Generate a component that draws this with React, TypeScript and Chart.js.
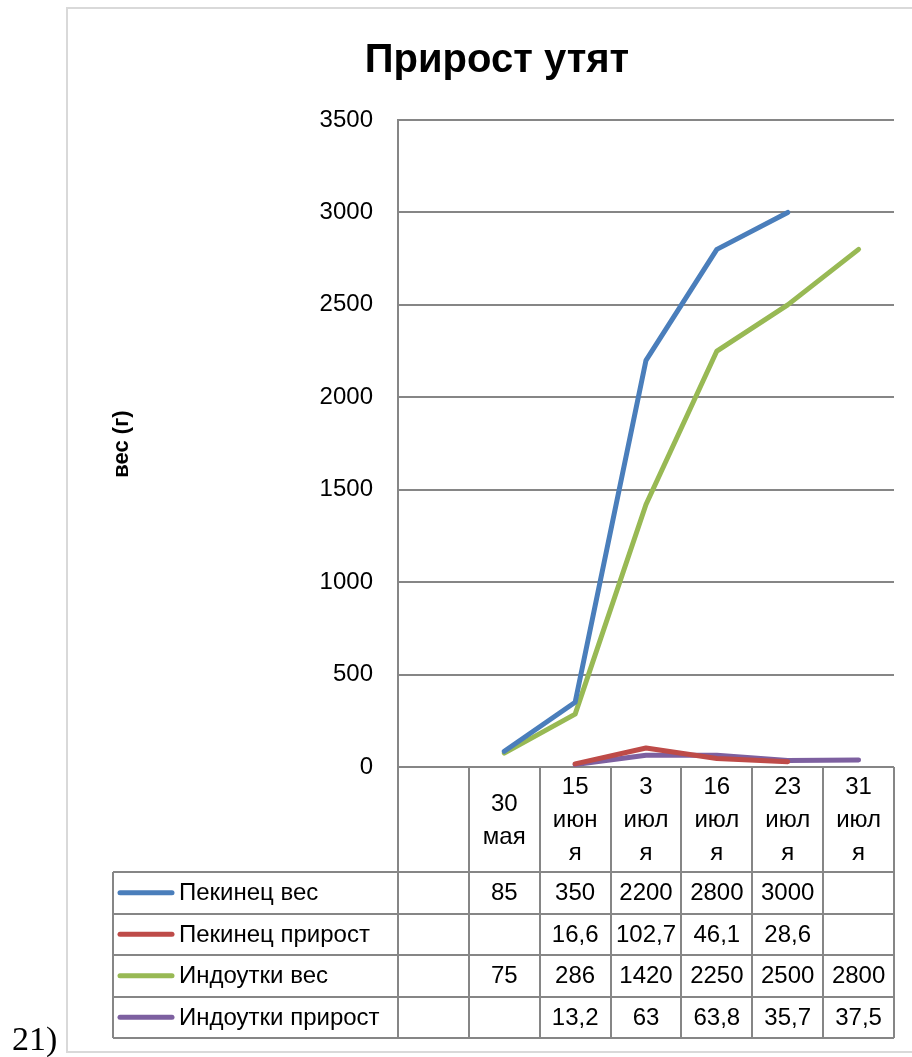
import React, { useEffect, useRef } from "react";
import { Chart, registerables } from "chart.js";

Chart.register(...registerables);

const TITLE = "Прирост утят";
const Y_LABEL = "вес (г)";
const SIDE_NOTE = "21)";

// category labels, already broken into lines as in the data table header
const categoryLines: string[][] = [
  [],
  ["30", "мая"],
  ["15", "июн", "я"],
  ["3", "июл", "я"],
  ["16", "июл", "я"],
  ["23", "июл", "я"],
  ["31", "июл", "я"],
];
const categories = categoryLines.map((l) => l.join(""));

const seriesNames = ["Пекинец вес", "Пекинец прирост", "Индоутки вес", "Индоутки прирост"];
const pekinWeight: (number | null)[] = [null, 85, 350, 2200, 2800, 3000, null];
const pekinGain: (number | null)[] = [null, null, 16.6, 102.7, 46.1, 28.6, null];
const indoWeight: (number | null)[] = [null, 75, 286, 1420, 2250, 2500, 2800];
const indoGain: (number | null)[] = [null, null, 13.2, 63, 63.8, 35.7, 37.5];
const seriesColors = ["#4A7EBB", "#BE4B48", "#98B954", "#7D60A0"];

const Y_MIN = 0;
const Y_MAX = 3500;
const Y_STEP = 500;

const FONT = "'Liberation Sans', Arial, sans-serif";
const GRID = "#868686";

export default function App() {
  const ref = useRef<HTMLCanvasElement | null>(null);

  useEffect(() => {
    if (!ref.current) return;
    const seriesData = [pekinWeight, pekinGain, indoWeight, indoGain];

    const tablePlugin = {
      id: "excelDecor",
      beforeDraw(chart: any) {
        const ctx = chart.ctx;
        ctx.save();
        ctx.fillStyle = "#ffffff";
        ctx.fillRect(0, 0, chart.width, chart.height);
        ctx.restore();
      },
      afterDraw(chart: any) {
        const ctx = chart.ctx as CanvasRenderingContext2D;
        const area = chart.chartArea;
        const xs = chart.scales.x;
        const n = categories.length;
        const colW = (area.right - area.left) / n;
        const top = area.bottom;
        const headerBottom = 872;
        const rowH = 41.5;
        const tableLeft = 113;
        const tableBottom = headerBottom + rowH * seriesData.length;

        ctx.save();
        // frame
        ctx.strokeStyle = "#d9d9d9";
        ctx.lineWidth = 2;
        ctx.strokeRect(67, 8, chart.width, 1044);

        // title
        ctx.fillStyle = "#000";
        ctx.textAlign = "center";
        ctx.textBaseline = "middle";
        ctx.font = `bold 40px ${FONT}`;
        ctx.fillText(TITLE, 497, 61);

        // y axis title
        ctx.save();
        ctx.translate(122, 444);
        ctx.rotate(-Math.PI / 2);
        ctx.font = `bold 22px ${FONT}`;
        ctx.fillText(Y_LABEL, 0, 0);
        ctx.restore();

        // data table lines
        ctx.strokeStyle = GRID;
        ctx.lineWidth = 2;
        ctx.beginPath();
        for (let k = 0; k <= n; k++) {
          const x = Math.round(area.left + k * colW);
          ctx.moveTo(x, top);
          ctx.lineTo(x, tableBottom);
        }
        for (let r = 0; r <= seriesData.length; r++) {
          const y = Math.round(headerBottom + r * rowH);
          ctx.moveTo(tableLeft, y);
          ctx.lineTo(area.right, y);
        }
        ctx.moveTo(tableLeft, headerBottom);
        ctx.lineTo(tableLeft, tableBottom);
        ctx.stroke();

        // header labels
        ctx.fillStyle = "#000";
        ctx.font = `24px ${FONT}`;
        ctx.textAlign = "center";
        ctx.textBaseline = "middle";
        const lh = 33;
        const hc = (top + headerBottom) / 2;
        categoryLines.forEach((lines, i) => {
          const cx = xs.getPixelForValue(i);
          lines.forEach((t, j) => {
            const y = hc + (j - (lines.length - 1) / 2) * lh;
            ctx.fillText(t, cx, y + 1);
          });
        });

        // rows
        seriesData.forEach((vals, r) => {
          const cy = headerBottom + r * rowH + rowH / 2;
          // legend key
          ctx.strokeStyle = seriesColors[r];
          ctx.lineWidth = 5;
          ctx.lineCap = "round";
          ctx.beginPath();
          ctx.moveTo(120, cy);
          ctx.lineTo(172, cy);
          ctx.stroke();
          ctx.textAlign = "left";
          ctx.fillStyle = "#000";
          ctx.fillText(seriesNames[r], 179, cy + 1);
          ctx.textAlign = "center";
          vals.forEach((v, i) => {
            if (v === null || v === undefined) return;
            ctx.fillText(String(v).replace(".", ","), xs.getPixelForValue(i), cy + 1);
          });
        });

        // side note
        ctx.textAlign = "left";
        ctx.textBaseline = "alphabetic";
        ctx.font = `34px 'Liberation Serif', 'Times New Roman', serif`;
        ctx.fillText(SIDE_NOTE, 12, 1050);
        ctx.restore();
      },
    };

    const chart = new Chart(ref.current, {
      type: "line",
      data: {
        labels: categories,
        datasets: seriesData.map((d, i) => ({
          label: seriesNames[i],
          data: d,
          borderColor: seriesColors[i],
          backgroundColor: seriesColors[i],
          borderWidth: 5,
          borderCapStyle: "round",
          borderJoinStyle: "round",
          pointRadius: 0,
          tension: 0,
          spanGaps: false,
          fill: false,
        })),
      },
      options: {
        responsive: false,
        animation: false,
        devicePixelRatio: 1,
        layout: { padding: { left: 67, right: 18, top: 120, bottom: 290 } },
        plugins: {
          legend: { display: false },
          title: { display: false },
          tooltip: { enabled: false },
        },
        scales: {
          x: {
            type: "category",
            offset: true,
            grid: { display: false, drawTicks: false },
            border: { display: false },
            ticks: { display: false },
            afterFit: (s: any) => {
              s.height = 0;
            },
          },
          y: {
            min: Y_MIN,
            max: Y_MAX,
            ticks: {
              stepSize: Y_STEP,
              padding: 25,
              color: "#000",
              font: { family: FONT, size: 24 },
              callback: (v: any) => String(v),
            },
            grid: { color: GRID, lineWidth: 2, drawTicks: false },
            border: { display: true, color: GRID, width: 2 },
            afterFit: (s: any) => {
              s.width = 331;
            },
          },
        },
      },
      plugins: [tablePlugin],
    } as any);

    return () => chart.destroy();
  }, []);

  return (
    <div style={{ position: "absolute", left: 0, top: 0, width: 912, height: 1057 }}>
      <canvas ref={ref} width={912} height={1057} style={{ width: 912, height: 1057, display: "block" }} />
    </div>
  );
}
